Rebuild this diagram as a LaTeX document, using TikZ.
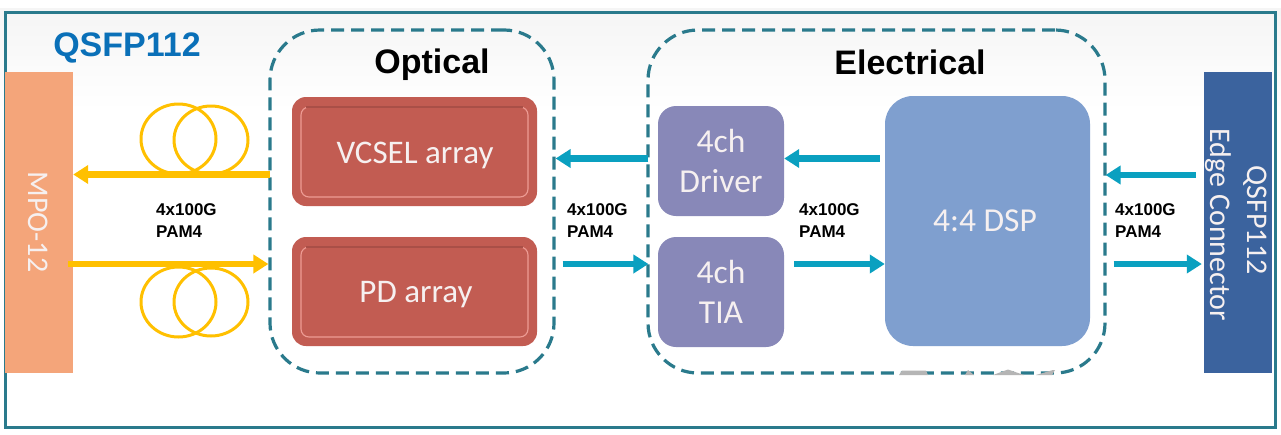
\documentclass[tikz,border=0pt]{standalone}
\usepackage{fontspec}
\usetikzlibrary{arrows.meta,calc}
\setmainfont{Liberation Sans}
\newfontfamily\boxfont{Carlito}
\definecolor{frameC}{HTML}{2A7A8C}
\definecolor{dashC}{HTML}{2A7A8C}
\definecolor{mpoC}{HTML}{F4A57A}
\definecolor{edgeC}{HTML}{3B639E}
\definecolor{redC}{HTML}{C25C52}
\definecolor{purpC}{HTML}{8888B8}
\definecolor{dspC}{HTML}{7F9FCF}
\definecolor{yelC}{HTML}{FFC000}
\definecolor{cyanC}{HTML}{0AA0C0}
\definecolor{titleC}{HTML}{0A70B8}
\definecolor{softW}{HTML}{F6F0F0}
\definecolor{innerHi}{HTML}{EE9C94}
\definecolor{innerLo}{HTML}{A94F47}
\definecolor{smudgeC}{HTML}{B5B5B5}
\tikzset{
  x=1pt,y=-1pt,
  port/.style={draw=none,inner sep=0pt,minimum height=301pt},
  group/.style={draw=dashC,line width=3.2pt,dash pattern=on 13pt off 7pt,rounded corners=50pt,inner sep=0pt,fill=none},
  red box/.style={fill=redC,rounded corners=14pt,inner sep=0pt,minimum width=245pt,minimum height=109pt},
  purple box/.style={fill=purpC,rounded corners=18pt,inner sep=0pt,minimum width=126pt,minimum height=110pt,text=softW,align=center,font=\boxfont\fontsize{33.5}{40}\selectfont},
  inner line/.style={draw=innerHi,line width=1.1pt,rounded corners=8pt},
  inner top/.style={draw=innerLo,line width=1.1pt},
  coil/.style={draw=yelC,line width=3pt},
  yarrow/.style={draw=yelC,line width=6.5pt,-{Triangle[length=15pt,width=18pt]}},
  carrow/.style={draw=cyanC,line width=6.5pt,-{Triangle[length=15pt,width=18pt]}},
  rate/.style={font=\bfseries\fontsize{17}{22}\selectfont,align=left,anchor=west,inner sep=0pt},
  grouptitle/.style={font=\bfseries\fontsize{34}{38}\selectfont,inner sep=0pt},
  boxlabel/.style={text=softW,font=\boxfont\fontsize{33}{36}\selectfont,inner sep=0pt},
  portlabel/.style={rotate=-90,text=softW,font=\boxfont\fontsize{30}{33}\selectfont,inner sep=0pt},
}
\begin{document}
\begin{tikzpicture}
\useasboundingbox (0,0) rectangle (1281,434);
\fill[white] (0,0) rectangle (1281,434);
\shade[top color=white!96!black,bottom color=white] (0,8) rectangle (1281,110);
\draw[frameC,line width=3.4pt] (5.5,12.5) rectangle (1275.5,427.5);

% ports
\node[port,fill=mpoC,minimum width=68pt] (mpo) at (39,222.5) {};
\node[portlabel] (mpotext) at (38,222) {MPO-12};
\node[port,fill=edgeC,minimum width=68pt] (edge) at (1238,222.5) {};
\node[portlabel] (edgea) at (1255,220) {QSFP112};
\node[portlabel] (edgeb) at (1218,225) {Edge Connector};

% titles
\node[text=titleC,font=\bfseries\fontsize{34}{38}\selectfont,inner sep=0pt] (brand) at (127,48) {QSFP112};

% groups
\node[group,minimum width=284pt,minimum height=343pt] (optical) at (412,201.5) {};
\node[group,minimum width=457pt,minimum height=343pt] (electrical) at (876.5,201.5) {};
\node[grouptitle] (opttitle) at (432,65) {Optical};
\node[grouptitle] (eletitle) at (910,62) {Electrical};

% faint residue on the lower dashed edge
\fill[smudgeC] (899,375) -- (902,370.5) -- (926,370.5) -- (928,375) -- cycle;
\fill[smudgeC] (965,375) -- (968,370) -- (974,375) -- cycle;
\fill[smudgeC] (993,375) -- (1008,369.5) -- (1024,375) -- cycle;
\fill[smudgeC] (1036,375) -- (1052,375) -- (1055,370) -- (1053,370) -- cycle;

% optical boxes
\node[red box] (vcsel) at (414.5,151.5) {};
\node[red box] (pd) at (414.5,291.5) {};
\draw[inner line] (301,107) rectangle (528,197);
\draw[inner line] (301,247) rectangle (528,337);
\draw[inner top] (306,107) -- (523,107);
\draw[inner top] (306,247) -- (523,247);
\node[boxlabel] (vcseltext) at (415,155) {VCSEL array};
\node[boxlabel] (pdtext) at (416,295) {PD array};

% electrical boxes
\node[purple box] (driver) at (721,161) {4ch\\Driver};
\node[purple box] (tia) at (721,292) {4ch\\TIA};
\node[fill=dspC,rounded corners=28pt,inner sep=0pt,minimum width=205pt,minimum height=250pt,text=softW,font=\boxfont\fontsize{33.5}{38}\selectfont] (dsp) at (987.5,221) {\hspace*{-5pt}4:4 DSP};

% coils
\draw[coil] (178.5,139) ellipse [x radius=37.5,y radius=35];
\draw[coil] (211,140) ellipse [x radius=37,y radius=34];
\draw[coil] (178.5,302) ellipse [x radius=37.5,y radius=35];
\draw[coil] (211,302) ellipse [x radius=37,y radius=34];

% connectors
\draw[yarrow,shorten <=-2pt] (optical.west |- 0,174.5) -- (mpo.east |- 0,174.5);
\draw[yarrow,shorten <=-5pt] (mpo.east |- 0,264) -- (optical.west |- 0,264);
\draw[carrow,shorten <=-2pt] (electrical.west |- 0,158.5) -- (optical.east |- 0,158.5);
\draw[carrow,shorten <=5pt] (dsp.west |- 0,158.5) -- (driver.east |- 0,158.5);
\draw[carrow,shorten <=8pt,shorten >=-1pt] (edge.west |- 0,175) -- (electrical.east |- 0,175);
\draw[carrow,shorten <=7pt,shorten >=-2pt] (optical.east |- 0,264) -- (electrical.west |- 0,264);
\draw[carrow,shorten <=10pt] (tia.east |- 0,264) -- (dsp.west |- 0,264);
\draw[carrow,shorten <=7pt,shorten >=2pt] (electrical.east |- 0,264) -- (edge.west |- 0,264);

% rate labels
\node[rate] (r1) at (156,220.5) {4x100G\\PAM4};
\node[rate] (r2) at (567,220.5) {4x100G\\PAM4};
\node[rate] (r3) at (799,220.5) {4x100G\\PAM4};
\node[rate] (r4) at (1115,220.5) {4x100G\\PAM4};
\end{tikzpicture}
\end{document}
